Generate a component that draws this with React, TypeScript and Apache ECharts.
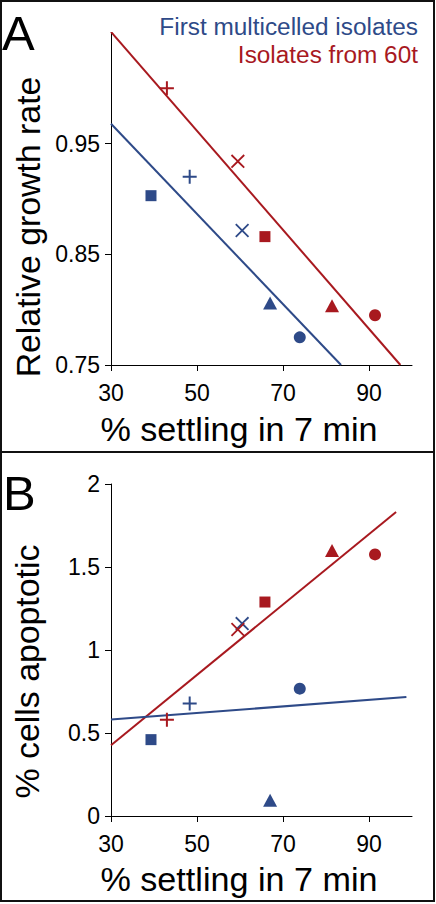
import React, { useEffect, useRef } from "react";
import * as echarts from "echarts";

// ---- data ----
const settlingTicks = [30, 50, 70, 90];
const growthTicks = [0.75, 0.85, 0.95];
const apoptoticTicks = [0, 0.5, 1, 1.5, 2];

const settlingBlue = [39.3, 48.3, 60.5, 67.0, 73.9];
const settlingRed = [43.0, 59.5, 65.8, 81.4, 91.4];
const shapesBlue = ["square", "plus", "cross", "triangle", "circle"];
const shapesRed = ["plus", "cross", "square", "triangle", "circle"];

const growthBlue = [0.903, 0.92, 0.8715, 0.806, 0.775];
const growthRed = [1.0, 0.934, 0.866, 0.8035, 0.795];
const apoptoticBlue = [0.46, 0.677, 1.159, 0.095, 0.767];
const apoptoticRed = [0.58, 1.123, 1.289, 1.6, 1.576];

const growthTrendBlue = [[30, 0.968], [83.5, 0.75]];
const growthTrendRed = [[30, 1.051], [97.3, 0.75]];
const apoptoticTrendBlue = [[30, 0.581], [98.7, 0.717]];
const apoptoticTrendRed = [[30, 0.426], [96.3, 1.831]];

const legendLabels = ["First multicelled isolates", "Isolates from 60t"];
const panelLetters = ["A", "B"];
const xTitle = "% settling in 7 min";
const yTitles = ["Relative growth rate", "% cells apoptotic"];

// ---- styles ----
const BLUE = "#2E4A88";
const RED = "#A8191F";
const FONT = "'Liberation Sans', Arial, Helvetica, sans-serif";

const PLUS_PATH = "path://M6,0H8V6H14V8H8V14H6V8H0V6H6Z";
const CROSS_PATH = "path://M8.1,0H9.9V8.1H18V9.9H9.9V18H8.1V9.9H0V8.1H8.1Z";

function symbolFor(shape: string) {
  switch (shape) {
    case "square":
      return { symbol: "rect", symbolSize: 11, symbolRotate: 0 };
    case "circle":
      return { symbol: "circle", symbolSize: 12, symbolRotate: 0 };
    case "triangle":
      return { symbol: "triangle", symbolSize: [14, 13], symbolRotate: 0 };
    case "plus":
      return { symbol: PLUS_PATH, symbolSize: 14, symbolRotate: 0 };
    default:
      return { symbol: CROSS_PATH, symbolSize: 18, symbolRotate: 45 };
  }
}

function points(xs: number[], ys: number[], shapes: string[]) {
  return xs.map((x, i) => ({ value: [x, ys[i]], ...symbolFor(shapes[i]) }));
}

function xAxisFor(gridIndex: number) {
  return {
    type: "value",
    gridIndex,
    min: 30,
    max: 100,
    splitLine: { show: false },
    axisLine: { show: true, onZero: false, lineStyle: { color: "#000", width: 1 } },
    axisTick: { show: true, length: 6, inside: false, customValues: settlingTicks, lineStyle: { color: "#000" } },
    axisLabel: { customValues: settlingTicks, fontSize: 23, color: "#000", fontFamily: FONT, margin: 16 },
  };
}

function yAxisFor(gridIndex: number, min: number, max: number, ticks: number[]) {
  return {
    type: "value",
    gridIndex,
    min,
    max,
    splitLine: { show: false },
    axisLine: { show: true, onZero: false, lineStyle: { color: "#000", width: 1 } },
    axisTick: { show: true, length: 6, inside: false, customValues: ticks, lineStyle: { color: "#000" } },
    axisLabel: { customValues: ticks, fontSize: 23, color: "#000", fontFamily: FONT, margin: 11 },
  };
}

function trend(data: number[][], color: string, idx: number) {
  return {
    type: "line",
    xAxisIndex: idx,
    yAxisIndex: idx,
    data,
    symbol: "none",
    silent: true,
    z: 2,
    lineStyle: { color, width: 2 },
  };
}

function scatter(xs: number[], ys: number[], shapes: string[], color: string, idx: number) {
  return {
    type: "scatter",
    xAxisIndex: idx,
    yAxisIndex: idx,
    data: points(xs, ys, shapes),
    z: 5,
    itemStyle: { color, opacity: 1 },
  };
}

function txt(text: string, x: number, y: number, size: number, color: string, align: string, rotation = 0, scaleX = 1) {
  return {
    type: "text",
    x,
    y,
    rotation,
    scaleX,
    z: 10,
    style: {
      text,
      fontSize: size,
      fontFamily: FONT,
      fill: color,
      align,
      verticalAlign: "middle",
    },
  };
}

export default function App() {
  const ref = useRef<HTMLDivElement>(null);

  useEffect(() => {
    if (!ref.current) return;
    const chart = echarts.init(ref.current, undefined, { renderer: "svg" });
    chart.setOption({
      animation: false,
      backgroundColor: "#fff",
      grid: [
        { left: 111, top: 33, width: 301, height: 332 },
        { left: 111, top: 484, width: 301, height: 332 },
      ],
      xAxis: [xAxisFor(0), xAxisFor(1)],
      yAxis: [yAxisFor(0, 0.75, 1.05, growthTicks), yAxisFor(1, 0, 2, apoptoticTicks)],
      series: [
        trend(growthTrendRed, RED, 0),
        trend(growthTrendBlue, BLUE, 0),
        scatter(settlingBlue, growthBlue, shapesBlue, BLUE, 0),
        scatter(settlingRed, growthRed, shapesRed, RED, 0),
        trend(apoptoticTrendRed, RED, 1),
        trend(apoptoticTrendBlue, BLUE, 1),
        scatter(settlingBlue, apoptoticBlue, shapesBlue, BLUE, 1),
        scatter(settlingRed, apoptoticRed, shapesRed, RED, 1),
      ],
      graphic: [
        { type: "rect", shape: { x: 1, y: 1, width: 433, height: 451 }, style: { fill: "none", stroke: "#111", lineWidth: 2 }, z: 20 },
        { type: "rect", shape: { x: 1, y: 452, width: 433, height: 449 }, style: { fill: "none", stroke: "#111", lineWidth: 2 }, z: 20 },
        txt(panelLetters[0], 2, 32.5, 49, "#000", "left"),
        txt(panelLetters[1], 3, 493, 49, "#000", "left"),
        txt(legendLabels[0], 418, 27.5, 23, BLUE, "right", 0, 1.06),
        txt(legendLabels[1], 418, 55.5, 23, RED, "right", 0, 1.06),
        txt(xTitle, 239, 430, 33, "#000", "center", 0, 1.035),
        txt(xTitle, 239, 880, 33, "#000", "center", 0, 1.035),
        txt(yTitles[0], 28.5, 227, 33, "#000", "center", Math.PI / 2, 1.025),
        txt(yTitles[1], 28, 671.5, 33, "#000", "center", Math.PI / 2, 1.025),
      ],
    });
    return () => chart.dispose();
  }, []);

  return (
    <div
      ref={ref}
      style={{ position: "absolute", left: 0, top: 0, width: 436, height: 904, background: "#fff" }}
    />
  );
}
